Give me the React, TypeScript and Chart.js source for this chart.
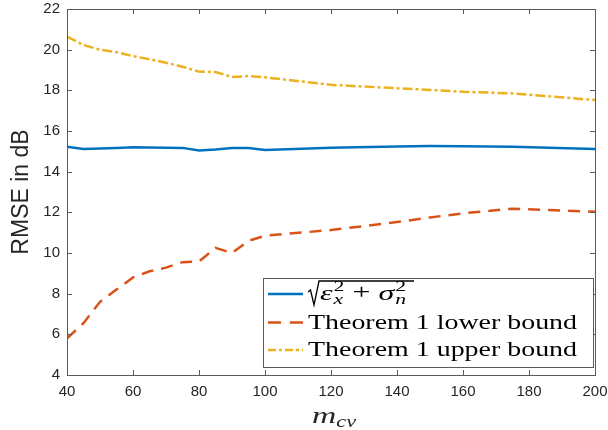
import React, { useEffect, useRef } from 'react';
import { Chart, registerables } from 'chart.js';
Chart.register(...registerables);

const mcv = [40, 45, 50, 55, 60, 65, 70, 75, 80, 85, 90, 95, 100, 120, 140, 150, 160, 175, 200];
const rmseActual = [15.23, 15.12, 15.14, 15.17, 15.2, 15.19, 15.18, 15.17, 15.04, 15.09, 15.16, 15.16, 15.06, 15.18, 15.24, 15.26, 15.25, 15.23, 15.12];
const lowerBound = [5.8, 6.55, 7.6, 8.2, 8.8, 9.1, 9.28, 9.55, 9.58, 10.25, 10.0, 10.6, 10.85, 11.13, 11.52, 11.75, 11.95, 12.18, 12.03];
const upperBound = [20.64, 20.23, 20.0, 19.88, 19.68, 19.53, 19.36, 19.16, 18.92, 18.9, 18.66, 18.7, 18.64, 18.27, 18.1, 18.02, 17.93, 17.85, 17.52];

const xTicks = [40, 60, 80, 100, 120, 140, 160, 180, 200];
const yTicks = [4, 6, 8, 10, 12, 14, 16, 18, 20, 22];
const seriesNames = ['sqrt', 'Theorem 1 lower bound', 'Theorem 1 upper bound'];
const yTitle = 'RMSE in dB';
const xTitleMain = 'm';
const xTitleSub = 'cv';

const colors = ['#0072BD', '#D95319', '#EDB120'];
const dashes: number[][] = [[], [12, 8], [10, 3, 3, 3]];

const SERIF = '"Liberation Serif", "Times New Roman", serif';

function stretchText(ctx: CanvasRenderingContext2D, s: string, x: number, y: number, font: string, sx: number) {
  ctx.save();
  ctx.font = font;
  ctx.translate(x, y);
  ctx.scale(sx, 1);
  ctx.fillText(s, 0, 0);
  const w = ctx.measureText(s).width * sx;
  ctx.restore();
  return w;
}

function zeroPad(s: any) {
  s.paddingLeft = 0;
  s.paddingRight = 0;
  s.paddingTop = 0;
  s.paddingBottom = 0;
}

const decor = {
  id: 'decor',
  afterDraw(chart: any) {
    const ctx: CanvasRenderingContext2D = chart.ctx;
    const a = chart.chartArea;
    const xs = chart.scales.x;
    const ys = chart.scales.y;
    ctx.save();
    // axes box
    ctx.strokeStyle = '#5a5a5a';
    ctx.lineWidth = 1;
    ctx.strokeRect(Math.round(a.left) + 0.5, Math.round(a.top) + 0.5, Math.round(a.right - a.left), Math.round(a.bottom - a.top));
    ctx.beginPath();
    const tl = 5;
    xTicks.forEach((v) => {
      const px = Math.round(xs.getPixelForValue(v)) + 0.5;
      ctx.moveTo(px, a.bottom);
      ctx.lineTo(px, a.bottom - tl);
      ctx.moveTo(px, a.top);
      ctx.lineTo(px, a.top + tl);
    });
    yTicks.forEach((v) => {
      const py = Math.round(ys.getPixelForValue(v)) + 0.5;
      ctx.moveTo(a.left, py);
      ctx.lineTo(a.left + tl, py);
      ctx.moveTo(a.right, py);
      ctx.lineTo(a.right - tl, py);
    });
    ctx.stroke();

    // x-axis title (italic m with subscript cv)
    ctx.fillStyle = '#262626';
    ctx.textBaseline = 'alphabetic';
    ctx.textAlign = 'left';
    const cx = (a.left + a.right) / 2;
    const mw = stretchText(ctx, xTitleMain, cx - 19, 423, 'italic 24px ' + SERIF, 1.4);
    stretchText(ctx, xTitleSub, cx - 19 + mw, 427, 'italic 16px ' + SERIF, 1.4);

    // legend
    const lx = 263, ly = 278, lw = 330, lh = 89;
    ctx.fillStyle = '#ffffff';
    ctx.fillRect(lx, ly, lw, lh);
    ctx.strokeStyle = '#5a5a5a';
    ctx.lineWidth = 1;
    ctx.strokeRect(lx + 0.5, ly + 0.5, lw, lh);

    const rowsY = [294, 322.5, 350];
    for (let i = 0; i < 3; i++) {
      ctx.save();
      ctx.strokeStyle = colors[i];
      ctx.lineWidth = 2.5;
      ctx.setLineDash(i === 1 ? [13, 9] : i === 2 ? [8, 3, 3, 3] : []);
      ctx.beginPath();
      ctx.moveTo(268, rowsY[i]);
      ctx.lineTo(303, rowsY[i]);
      ctx.stroke();
      ctx.restore();
    }

    ctx.fillStyle = '#000000';
    ctx.font = '20px ' + SERIF;
    const sx = 269 / ctx.measureText(seriesNames[1]).width;
    stretchText(ctx, seriesNames[1], 308, 328.5, '20px ' + SERIF, sx);
    stretchText(ctx, seriesNames[2], 308, 356, '20px ' + SERIF, sx);

    // sqrt(eps_x^2 + sigma_n^2)
    const by = 300;
    const msx = 1.45;
    let x = 320;
    const main = 'italic 22px ' + SERIF;
    const scr = 'italic 15px ' + SERIF;
    const scrN = '15px ' + SERIF;
    x += stretchText(ctx, 'ε', x, by, main, msx) + 1;
    const w1 = stretchText(ctx, '2', x, by - 9, scrN, msx);
    const w2 = stretchText(ctx, 'x', x, by + 4, scr, msx);
    x += Math.max(w1, w2) + 8;
    x += stretchText(ctx, '+', x, by - 1, '22px ' + SERIF, msx) + 8;
    x += stretchText(ctx, 'σ', x, by, main, msx) + 1;
    const w3 = stretchText(ctx, '2', x, by - 9, scrN, msx);
    const w4 = stretchText(ctx, 'n', x, by + 4, scr, msx);
    x += Math.max(w3, w4) + 4;
    ctx.strokeStyle = '#000000';
    ctx.lineWidth = 1.3;
    ctx.beginPath();
    ctx.moveTo(308, 292);
    ctx.lineTo(310.5, 290);
    ctx.lineTo(314, 305);
    ctx.lineTo(319, 281);
    ctx.lineTo(Math.max(x, 414), 281);
    ctx.stroke();

    ctx.restore();
  },
};

export default function App() {
  const ref = useRef<HTMLCanvasElement>(null);
  useEffect(() => {
    document.body.style.margin = '0';
    const canvas = ref.current!;
    const series = [rmseActual, lowerBound, upperBound];
    const chart = new Chart(canvas, {
      type: 'line',
      data: {
        datasets: series.map((s, i) => ({
          label: seriesNames[i],
          data: mcv.map((m, j) => ({ x: m, y: s[j] })),
          borderColor: colors[i],
          backgroundColor: colors[i],
          borderWidth: 2.5,
          borderDash: dashes[i],
          pointRadius: 0,
          tension: 0,
          fill: false,
        })),
      },
      options: {
        responsive: false,
        animation: false,
        devicePixelRatio: 1,
        layout: { padding: { left: 0, top: 9, right: 13, bottom: 0 } },
        plugins: { legend: { display: false }, tooltip: { enabled: false } },
        scales: {
          x: {
            type: 'linear',
            min: 40,
            max: 200,
            afterBuildTicks: (s: any) => { s.ticks = xTicks.map((v) => ({ value: v })); },
            afterFit: (s: any) => { s.height = 55; zeroPad(s); },
            grid: { display: false, drawTicks: false },
            border: { display: false },
            ticks: {
              padding: 8,
              color: '#262626',
              font: { family: '"Liberation Sans", Arial, sans-serif', size: 15 },
              autoSkip: false,
              maxRotation: 0,
            },
          },
          y: {
            type: 'linear',
            min: 4,
            max: 22,
            afterBuildTicks: (s: any) => { s.ticks = yTicks.map((v) => ({ value: v })); },
            afterFit: (s: any) => { s.width = 67; zeroPad(s); },
            grid: { display: false, drawTicks: false },
            border: { display: false },
            ticks: {
              padding: 7,
              color: '#262626',
              font: { family: '"Liberation Sans", Arial, sans-serif', size: 15 },
              autoSkip: false,
            },
            title: {
              display: true,
              text: yTitle,
              color: '#262626',
              font: { family: '"Liberation Sans", Arial, sans-serif', size: 23 },
              padding: { top: 8, bottom: 0 },
            },
          },
        },
      },
      plugins: [decor],
    } as any);
    return () => chart.destroy();
  }, []);
  return (
    <div style={{ position: 'fixed', left: 0, top: 0, width: 608, height: 430, background: '#fff' }}>
      <canvas ref={ref} width={608} height={430} style={{ width: 608, height: 430 }} />
    </div>
  );
}
